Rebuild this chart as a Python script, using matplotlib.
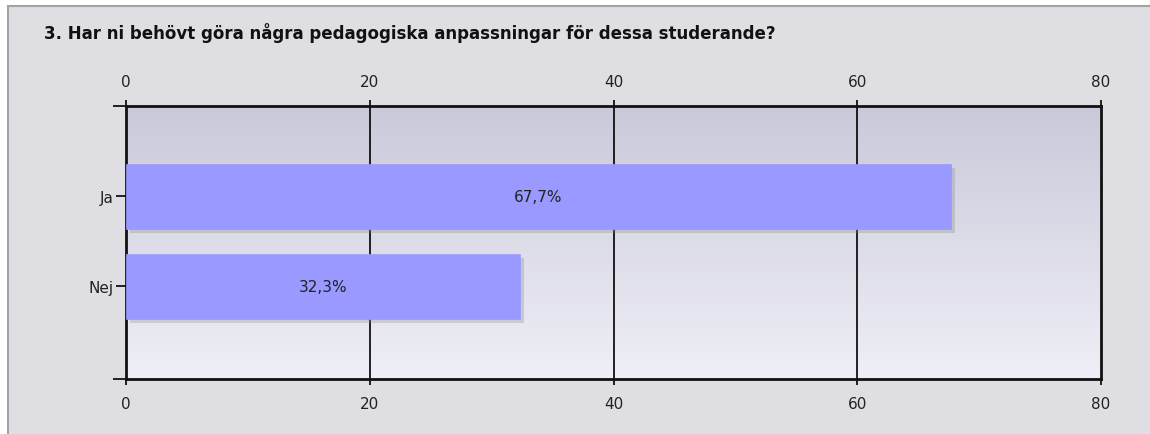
import numpy as np
import matplotlib
matplotlib.use('Agg')
import matplotlib.pyplot as plt
import matplotlib.patheffects as pe
from matplotlib.patches import Rectangle

# dados
categorias = ['Ja', 'Nej']
valores = [67.7, 32.3]
rotulos = ['67,7%', '32,3%']
ticks_x = [0, 20, 40, 60, 80]
titulo = '3. Har ni behövt göra några pedagogiska anpassningar för dessa studerande?'

W, H = 1150, 435
fig = plt.figure(figsize=(W / 100, H / 100), dpi=100, facecolor='white')

# fundo cinza com borda (lado esquerdo e topo)
fig.patches.append(Rectangle((8 / W, -0.1), 1.0, 1.1 - 7 / H, transform=fig.transFigure,
                             facecolor='#dfdee3', edgecolor='#a3a3a3', linewidth=1.5, zorder=-5))

fig.text(44 / W, 1 - 33 / H, titulo, fontsize=12, fontweight='bold', color='#111111',
         va='center', ha='left')

ax = fig.add_axes([126 / W, 1 - 380 / H, (1101 - 126) / W, (380 - 107) / H])
ax.set_zorder(2)
ax.set_xlim(0, 80)
ylo, yhi = -1.03, 2.0
ax.set_ylim(ylo, yhi)

# gradiente do fundo do eixo
grad = np.linspace(0, 1, 256).reshape(-1, 1)
topo = np.array([0xca, 0xc9, 0xda]) / 255
base = np.array([0xef, 0xef, 0xf7]) / 255
img = topo * (1 - grad[..., None]) + base * grad[..., None]
img = img.reshape(256, 1, 3)
ax.imshow(img, extent=[0, 80, ylo, yhi], aspect='auto', origin='upper', zorder=0)

# grade vertical
for t in ticks_x[1:-1]:
    ax.axvline(t, color='black', linewidth=1.2, zorder=1)

pos = np.arange(len(categorias))[::-1]
barras = ax.barh(pos, valores, height=0.72, color='#9999ff', edgecolor='#9999ff', zorder=3,
                 linewidth=0.5)
for b in barras:
    b.set_path_effects([pe.SimplePatchShadow(offset=(3, -3), shadow_rgbFace='#888888', alpha=0.3),
                        pe.Normal()])
for p, v, r in zip(pos, valores, rotulos):
    ax.text(v / 2, p, r, ha='center', va='center', fontsize=11, color='#222222', zorder=4)

ax.set_yticks(pos)
ax.set_yticklabels(categorias, fontsize=11, color='#222222')
ax.set_yticks([ylo, yhi], minor=True)
ax.set_xticks(ticks_x)
ax.tick_params(axis='x', labeltop=True, top=True, labelsize=11, labelcolor='#222222',
               length=4, width=1.2, pad=8)
ax.tick_params(axis='y', which='both', length=7, width=1.2, pad=2)
ax.tick_params(axis='y', which='minor', length=9.5)
for s in ax.spines.values():
    s.set_linewidth(2)
    s.set_color('#111111')

fig.savefig('out.png', dpi=100, facecolor=fig.get_facecolor())
